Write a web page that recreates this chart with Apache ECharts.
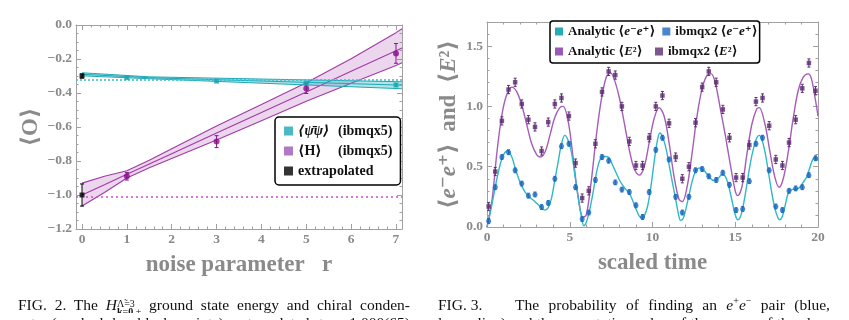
<!DOCTYPE html>
<html>
<head>
<meta charset="utf-8">
<script src="https://cdn.jsdelivr.net/npm/echarts@6/dist/echarts.min.js"></script>
<style>
html, body { margin: 0; padding: 0; background: #fff; overflow: hidden; }
#wrap { position: relative; width: 849px; height: 320px; overflow: hidden; }
#chart { position: absolute; left: 0; top: 0; width: 849px; height: 320px; }
.cap { position: absolute; font-family: "Liberation Serif", "DejaVu Serif", serif; font-size: 15.5px; color: #111;
       line-height: 16px; height: 16px; overflow: hidden; text-align: justify; text-align-last: justify; }
.ss { display: inline-block; vertical-align: -5px; font-size: 10px; line-height: 8.5px; text-align: left; text-align-last: left; }
.ss span { display: block; }
sup { font-size: 10px; line-height: 0; }
</style>
</head>
<body>
<div id="wrap">
  <div id="chart"></div>
  <div class="cap" style="left:18px; top:297px; width:392px;">FIG. 2. The <i>H</i><span class="ss"><span>Λ̃=3</span><span><b>k</b>=<b>0</b>,+</span></span> ground state energy and chiral conden-</div>
  <div class="cap" style="left:18px; top:315px; width:392px;">sate (marked by black points) extrapolated to −1.000(65)</div>
  <div class="cap" style="left:438px; top:297px; width:50px; text-align-last:left;">FIG. 3.</div>
  <div class="cap" style="left:515px; top:297px; width:315px;">The probability of finding an <i>e</i><sup>+</sup><i>e</i><sup>−</sup> pair (blue,</div>
  <div class="cap" style="left:438px; top:315px; width:392px;">lower line) and the expectation value of the energy of the elec-</div>
</div>
<script>
// ---------- left panel: noise extrapolation ----------
var noiseR = [1, 3, 5, 7];
var psiVals = [-0.31, -0.33, -0.343, -0.353];
var psiErr = [0.006, 0.006, 0.006, 0.008];
var hVals = [-0.89, -0.686, -0.373, -0.167];
var hErr = [0.022, 0.035, 0.03, 0.058];
var extrapR = [0, 0];
var extrapVals = [-0.30, -1.0];
var extrapErr = [0.012, 0.065];
var psiExact = -0.323;
var hExact = -1.01;

// fit bands, read along r
var hBandR = [0, 0.5, 1, 1.5, 2, 3, 4, 5, 6, 7, 7.134];
var hUpper = [-0.93, -0.89, -0.857, -0.795, -0.728, -0.594, -0.468, -0.34, -0.198, -0.045, -0.022];
var hCenter = [-1.0, -0.94, -0.878, -0.817, -0.757, -0.636, -0.515, -0.394, -0.272, -0.151, -0.135];
var hLower = [-1.065, -0.985, -0.9, -0.84, -0.785, -0.677, -0.563, -0.448, -0.343, -0.238, -0.222];
var psiBandR = [0, 1.5, 7.134];
var psiUpper = [-0.281, -0.305, -0.334];
var psiCenter = [-0.29, -0.31, -0.354];
var psiLower = [-0.299, -0.316, -0.375];

var leftTicksX = [0, 1, 2, 3, 4, 5, 6, 7];
var leftTicksY = [-1.2, -1.0, -0.8, -0.6, -0.4, -0.2, 0.0];

// ---------- right panel: time evolution ----------
var eeAnaT = [0, 0.2, 0.4, 0.6, 0.8, 1.0, 1.25, 1.5, 1.7, 2.0, 2.3, 2.6, 2.9, 3.2, 3.5, 3.7, 3.9, 4.1, 4.3, 4.5,
  4.7, 4.9, 5.1, 5.3, 5.5, 5.7, 5.85, 6.0, 6.2, 6.4, 6.6, 6.8, 7.0, 7.2, 7.4, 7.6, 7.8, 8.0, 8.2, 8.4,
  8.6, 8.8, 9.0, 9.2, 9.35, 9.5, 9.7, 9.9, 10.1, 10.3, 10.45, 10.6, 10.8, 11.0, 11.2, 11.4, 11.55, 11.7, 11.85, 12.0,
  12.2, 12.4, 12.6, 12.85, 13.1, 13.4, 13.7, 13.95, 14.2, 14.4, 14.6, 14.8, 15.0, 15.15, 15.3, 15.5, 15.7, 15.9, 16.1, 16.3,
  16.45, 16.6, 16.8, 17.0, 17.2, 17.4, 17.6, 17.7, 17.85, 18.0, 18.2, 18.4, 18.7, 18.9, 19.1, 19.3, 19.5, 19.7, 19.85, 20.0];
var eeAnaV = [0.0, 0.12, 0.26, 0.40, 0.52, 0.60, 0.635, 0.58, 0.49, 0.37, 0.29, 0.245, 0.21, 0.17, 0.14, 0.16, 0.24, 0.39, 0.54, 0.69,
  0.76, 0.72, 0.62, 0.44, 0.25, 0.09, 0.01, 0.04, 0.14, 0.28, 0.44, 0.55, 0.585, 0.585, 0.57, 0.51, 0.45, 0.39, 0.345, 0.31,
  0.28, 0.22, 0.15, 0.09, 0.075, 0.09, 0.17, 0.33, 0.54, 0.72, 0.78, 0.75, 0.66, 0.52, 0.37, 0.23, 0.12, 0.055, 0.07, 0.14,
  0.26, 0.38, 0.46, 0.49, 0.47, 0.42, 0.385, 0.40, 0.435, 0.42, 0.34, 0.22, 0.10, 0.06, 0.08, 0.19, 0.35, 0.52, 0.65, 0.74,
  0.76, 0.73, 0.62, 0.46, 0.29, 0.15, 0.07, 0.06, 0.09, 0.17, 0.28, 0.31, 0.315, 0.33, 0.37, 0.41, 0.49, 0.565, 0.575, 0.55];

var e2AnaT = [0, 0.3, 0.6, 0.9, 1.2, 1.5, 1.8, 2.1, 2.4, 2.7, 3.0, 3.2, 3.5, 3.8, 4.1, 4.4, 4.6, 4.9, 5.2, 5.5,
  5.8, 6.0, 6.3, 6.6, 6.9, 7.2, 7.45, 7.7, 8.0, 8.3, 8.6, 8.9, 9.2, 9.5, 9.8, 10.1, 10.4, 10.7, 11.0, 11.3,
  11.6, 11.8, 12.1, 12.4, 12.7, 13.0, 13.3, 13.55, 13.8, 14.1, 14.4, 14.7, 15.0, 15.15, 15.4, 15.7, 16.0, 16.3, 16.45, 16.8,
  17.1, 17.4, 17.65, 17.9, 18.2, 18.5, 18.8, 19.1, 19.4, 19.6, 19.85, 20];
var e2AnaV = [0, 0.22, 0.62, 0.93, 1.10, 1.16, 1.12, 1.01, 0.85, 0.69, 0.60, 0.58, 0.62, 0.76, 0.91, 0.99, 1.0, 0.88, 0.58, 0.26,
  0.08, 0.10, 0.38, 0.75, 1.05, 1.24, 1.28, 1.22, 1.07, 0.86, 0.64, 0.48, 0.43, 0.50, 0.70, 0.90, 0.99, 0.92, 0.70, 0.42,
  0.23, 0.21, 0.34, 0.62, 0.93, 1.15, 1.26, 1.27, 1.19, 0.98, 0.76, 0.52, 0.30, 0.26, 0.33, 0.60, 0.85, 0.98, 0.99, 0.85,
  0.62, 0.41, 0.33, 0.40, 0.62, 0.90, 1.13, 1.24, 1.27, 1.23, 1.05, 0.92];

var ibmT = [0.1, 0.5, 0.9, 1.3, 1.7, 2.1, 2.5, 2.9, 3.3, 3.7, 4.1, 4.5, 4.95, 5.35, 5.75, 6.15, 6.55, 6.95, 7.35, 7.75,
  8.15, 8.6, 9.0, 9.4, 9.8, 10.2, 10.6, 11.0, 11.4, 11.8, 12.2, 12.6, 13.0, 13.4, 13.85, 14.25, 14.65, 15.05, 15.45, 15.85,
  16.25, 16.65, 17.05, 17.45, 17.85, 18.25, 18.65, 19.05, 19.45, 19.85];
var ibmEE = [0.05, 0.33, 0.58, 0.62, 0.47, 0.36, 0.26, 0.27, 0.165, 0.20, 0.40, 0.67, 0.69, 0.33, 0.066, 0.12, 0.39, 0.58, 0.55, 0.37,
  0.31, 0.29, 0.18, 0.083, 0.29, 0.64, 0.74, 0.56, 0.25, 0.12, 0.25, 0.47, 0.48, 0.42, 0.39, 0.45, 0.35, 0.14, 0.15, 0.38,
  0.69, 0.74, 0.47, 0.17, 0.14, 0.30, 0.32, 0.33, 0.43, 0.57];
var ibmE2 = [0.17, 0.46, 0.88, 1.14, 1.20, 1.02, 0.89, 0.83, 0.63, 0.87, 1.02, 1.07, 0.92, 0.53, 0.24, 0.30, 0.69, 1.12, 1.29, 1.26,
  1.0, 0.71, 0.51, 0.51, 0.74, 1.0, 1.09, 0.86, 0.58, 0.40, 0.50, 0.865, 1.16, 1.29, 1.20, 0.975, 0.74, 0.41, 0.41, 0.68,
  1.04, 1.07, 0.84, 0.56, 0.51, 0.70, 0.89, 1.15, 1.36, 1.13];
var ibmEEErr = 0.02;
var ibmE2Err = 0.034;

var rightTicksX = [0, 5, 10, 15, 20];
var rightTicksY = [0, 0.5, 1.0, 1.5];

// ---------- styling ----------
var SERIF = '"Liberation Serif", "DejaVu Serif", serif';
var GRAY = '#8a8a8a';
var FRAME = '#a0a0a0';

function steps(a, b, d) {
  var out = [];
  for (var v = a; v <= b + 1e-9; v += d) out.push(Math.round(v * 1000) / 1000);
  return out;
}
function zip(xs, ys) {
  return xs.map(function (x, i) { return [x, ys[i]]; });
}
function minus(v) { return String(v).replace('-', '−'); }

// four framed axes (labelled side major/minor, opposite side major/minor)
function frameAxes(grid, dim, min, max, major, minor, fmt, nameCfg) {
  var sides = dim === 'x' ? ['bottom', 'top'] : ['left', 'right'];
  var out = [];
  sides.forEach(function (side, k) {
    [major, minor].forEach(function (vals, m) {
      var ax = {
        gridIndex: grid, type: 'value', position: side, min: min, max: max,
        axisLine: { show: m === 0, onZero: false, lineStyle: { color: FRAME, width: 1 } },
        axisTick: { show: true, inside: true, length: m === 0 ? 5 : 2.5, customValues: vals,
                    lineStyle: { color: FRAME, width: 1 } },
        axisLabel: { show: false },
        splitLine: { show: false }
      };
      if (k === 0 && m === 0) {
        ax.axisLabel = { show: true, customValues: major, formatter: fmt, color: GRAY,
                         fontFamily: SERIF, fontWeight: 'bold', fontSize: 13.5, margin: 4 };
        for (var key in nameCfg) ax[key] = nameCfg[key];
      }
      out.push(ax);
    });
  });
  return out;
}

var nameStyle = { color: GRAY, fontFamily: SERIF, fontWeight: 'bold', fontSize: 23,
                  rich: { i: { fontStyle: 'italic', color: GRAY, fontFamily: SERIF, fontWeight: 'bold', fontSize: 23 } } };

var xAxes = []
  .concat(frameAxes(0, 'x', -0.134, 7.134, leftTicksX, steps(0, 7.1, 0.2), function (v) { return String(v); },
    { name: 'noise parameter   r', nameLocation: 'middle', nameGap: 25, nameTextStyle: nameStyle }))
  .concat(frameAxes(1, 'x', 0, 20, rightTicksX, steps(0, 20, 1), function (v) { return String(v); },
    { name: 'scaled time', nameLocation: 'middle', nameGap: 25, nameTextStyle: nameStyle }));
var yAxes = []
  .concat(frameAxes(0, 'y', -1.2, 0, leftTicksY, steps(-1.2, 0, 0.05), function (v) { return minus(v.toFixed(1)); },
    { name: '⟨O⟩', nameLocation: 'middle', nameGap: 33, nameTextStyle: nameStyle }))
  .concat(frameAxes(1, 'y', 0, 1.7, rightTicksY, steps(0, 1.7, 0.1), function (v) { return v.toFixed(1); },
    { name: '⟨{i|e}⁻{i|e}⁺⟩  and  ⟨{i|E}²⟩', nameLocation: 'middle', nameGap: 26, nameTextStyle: nameStyle }));

function errorBars(xIdx, yIdx, xs, ys, err, color, cap) {
  return {
    type: 'custom', name: 'err', xAxisIndex: xIdx, yAxisIndex: yIdx, silent: true, z: 4,
    data: xs.map(function (x, i) {
      var e = Array.isArray(err) ? err[i] : err;
      return [x, ys[i] - e, ys[i] + e];
    }),
    encode: { x: 0, y: [1, 2] },
    renderItem: function (params, api) {
      var lo = api.coord([api.value(0), api.value(1)]);
      var hi = api.coord([api.value(0), api.value(2)]);
      var st = { stroke: color, lineWidth: 1 };
      return { type: 'group', children: [
        { type: 'line', shape: { x1: lo[0], y1: lo[1], x2: hi[0], y2: hi[1] }, style: st },
        { type: 'line', shape: { x1: lo[0] - cap, y1: lo[1], x2: lo[0] + cap, y2: lo[1] }, style: st },
        { type: 'line', shape: { x1: hi[0] - cap, y1: hi[1], x2: hi[0] + cap, y2: hi[1] }, style: st }
      ] };
    }
  };
}

function band(xs, up, lo, fill, z) {
  return {
    type: 'custom', name: 'band', xAxisIndex: 0, yAxisIndex: 0, silent: true, z: z,
    data: xs.map(function (x, i) { return [x, lo[i], up[i]]; }),
    encode: { x: 0, y: [1, 2] },
    renderItem: function (params, api) {
      if (params.dataIndex !== 0) return;
      var pts = [];
      for (var i = 0; i < xs.length; i++) pts.push(api.coord([xs[i], up[i]]));
      for (var j = xs.length - 1; j >= 0; j--) pts.push(api.coord([xs[j], lo[j]]));
      return { type: 'polygon', shape: { points: pts }, style: { fill: fill } };
    }
  };
}

function fitLine(xs, ys, color, width, z) {
  return { type: 'line', name: 'fit', xAxisIndex: 0, yAxisIndex: 0, data: zip(xs, ys), showSymbol: false,
           silent: true, z: z, lineStyle: { color: color, width: width } };
}

var PSI = '⟨ψ̄ψ⟩ (ibmqx5)', HN = '⟨H⟩ (ibmqx5)', EXT = 'extrapolated';
var A_EE = 'Analytic ee', I_EE = 'ibmqx2 ee', A_E2 = 'Analytic E2', I_E2 = 'ibmqx2 E2';

var hLineColor = '#a13aa5';
var psiLineColor = '#1fa9b7';

var series = [
  // left panel
  band(hBandR, hUpper, hLower, 'rgba(175, 90, 185, 0.25)', 1),
  fitLine(hBandR, hUpper, hLineColor, 1.1, 2),
  fitLine(hBandR, hCenter, hLineColor, 1.1, 2),
  fitLine(hBandR, hLower, hLineColor, 1.1, 2),
  {
    type: 'line', name: 'exact', xAxisIndex: 0, yAxisIndex: 0, data: [], silent: true,
    markLine: { symbol: 'none', silent: true, label: { show: false },
      data: [
        { yAxis: psiExact, lineStyle: { color: '#3cc3d0', type: [2, 2], width: 1.6 } },
        { yAxis: hExact, lineStyle: { color: '#cc4fd0', type: [2, 3], width: 1.6 } }
      ] }
  },
  band(psiBandR, psiUpper, psiLower, 'rgba(40, 175, 190, 0.35)', 3),
  fitLine(psiBandR, psiUpper, psiLineColor, 1, 3),
  fitLine(psiBandR, psiCenter, psiLineColor, 1, 3),
  fitLine(psiBandR, psiLower, psiLineColor, 1, 3),
  errorBars(0, 0, noiseR, psiVals, psiErr, '#1a9fad', 1.5),
  errorBars(0, 0, noiseR, hVals, hErr, '#8a148a', 2),
  errorBars(0, 0, extrapR, extrapVals, extrapErr, '#000', 2),
  { type: 'scatter', name: PSI, xAxisIndex: 0, yAxisIndex: 0, data: zip(noiseR, psiVals), symbol: 'rect',
    symbolSize: 5, itemStyle: { color: '#1ea7b5' }, z: 5 },
  { type: 'scatter', name: HN, xAxisIndex: 0, yAxisIndex: 0, data: zip(noiseR, hVals), symbol: 'circle',
    symbolSize: 6, itemStyle: { color: '#850f85' }, z: 5 },
  { type: 'scatter', name: EXT, xAxisIndex: 0, yAxisIndex: 0, data: zip(extrapR, extrapVals), symbol: 'rect',
    symbolSize: [5, 5], itemStyle: { color: '#000' }, z: 5 },

  // right panel
  { type: 'line', name: A_E2, xAxisIndex: 4, yAxisIndex: 4, data: zip(e2AnaT, e2AnaV), showSymbol: false,
    smooth: 0.35, lineStyle: { color: '#a65cb9', width: 1.4 }, itemStyle: { color: '#9b59b6' }, z: 2 },
  { type: 'line', name: A_EE, xAxisIndex: 4, yAxisIndex: 4, data: zip(eeAnaT, eeAnaV), showSymbol: false,
    smooth: 0.35, lineStyle: { color: '#2fb9c6', width: 1.4 }, itemStyle: { color: '#2aaab8' }, z: 2 },
  errorBars(4, 4, ibmT, ibmE2, ibmE2Err, '#5c2e70', 1.5),
  errorBars(4, 4, ibmT, ibmEE, ibmEEErr, '#1e6cc2', 1.5),
  { type: 'scatter', name: I_E2, xAxisIndex: 4, yAxisIndex: 4, data: zip(ibmT, ibmE2), symbol: 'rect',
    symbolSize: 4.5, itemStyle: { color: '#5a2c6e' }, z: 5 },
  { type: 'scatter', name: I_EE, xAxisIndex: 4, yAxisIndex: 4, data: zip(ibmT, ibmEE), symbol: 'circle',
    symbolSize: 5, itemStyle: { color: '#1d68c0' }, z: 5 }
];

var leftLegendText = {};
leftLegendText[PSI] = '{g|⟨ψ̄ψ⟩}(ibmqx5)';
leftLegendText[HN] = '{a|⟨H⟩}(ibmqx5)';
leftLegendText[EXT] = 'extrapolated';

var rightLegendText = {};
rightLegendText[A_EE] = 'Analytic ⟨{i|e}⁻{i|e}⁺⟩';
rightLegendText[I_EE] = 'ibmqx2 ⟨{i|e}⁻{i|e}⁺⟩';
rightLegendText[A_E2] = 'Analytic ⟨{i|E}²⟩';
rightLegendText[I_E2] = 'ibmqx2 ⟨{i|E}²⟩';

var legendFont = { fontFamily: SERIF, fontWeight: 'bold', color: '#111' };

var option = {
  animation: false,
  backgroundColor: '#fff',
  grid: [
    { left: 76, top: 25, width: 326, height: 204 },
    { left: 487, top: 22, width: 331, height: 205 }
  ],
  xAxis: xAxes,
  yAxis: yAxes,
  legend: [
    {
      data: [
        { name: PSI, itemStyle: { color: '#1ea7b5' } },
        { name: HN, itemStyle: { color: '#9b59b6' } },
        { name: EXT, itemStyle: { color: '#000' } }
      ],
      orient: 'vertical', left: 275, top: 117, icon: 'rect', itemWidth: 9, itemHeight: 9, itemGap: 6,
      padding: [7, 8, 7, 9], backgroundColor: '#fff', borderColor: '#000', borderWidth: 1.5, borderRadius: 4,
      selectedMode: false,
      formatter: function (n) { return leftLegendText[n]; },
      textStyle: Object.assign({ fontSize: 14, lineHeight: 14, width: 92, rich: {
        g: Object.assign({ fontSize: 14, width: 40, fontStyle: 'italic' }, legendFont),
        a: Object.assign({ fontSize: 14, width: 40 }, legendFont)
      } }, legendFont)
    },
    {
      data: [
        { name: A_EE, itemStyle: { color: '#2aaab8' } },
        { name: I_EE, itemStyle: { color: '#1a68c0' } },
        { name: A_E2, itemStyle: { color: '#9b59b6' } },
        { name: I_E2, itemStyle: { color: '#5a2d6e' } }
      ],
      orient: 'horizontal', left: 550, top: 21, width: 206, icon: 'rect', itemWidth: 8, itemHeight: 8, itemGap: 7,
      padding: [4, 2, 5, 5], backgroundColor: '#fff', borderColor: '#000', borderWidth: 1.5, borderRadius: 3,
      selectedMode: false,
      formatter: function (n) { return rightLegendText[n]; },
      textStyle: Object.assign({ fontSize: 13, lineHeight: 13, width: 80, rich: {
        i: Object.assign({ fontSize: 13, fontStyle: 'italic' }, legendFont)
      } }, legendFont)
    }
  ],
  series: series
};

var chart = echarts.init(document.getElementById('chart'));
chart.setOption(option);
</script>
</body>
</html>
